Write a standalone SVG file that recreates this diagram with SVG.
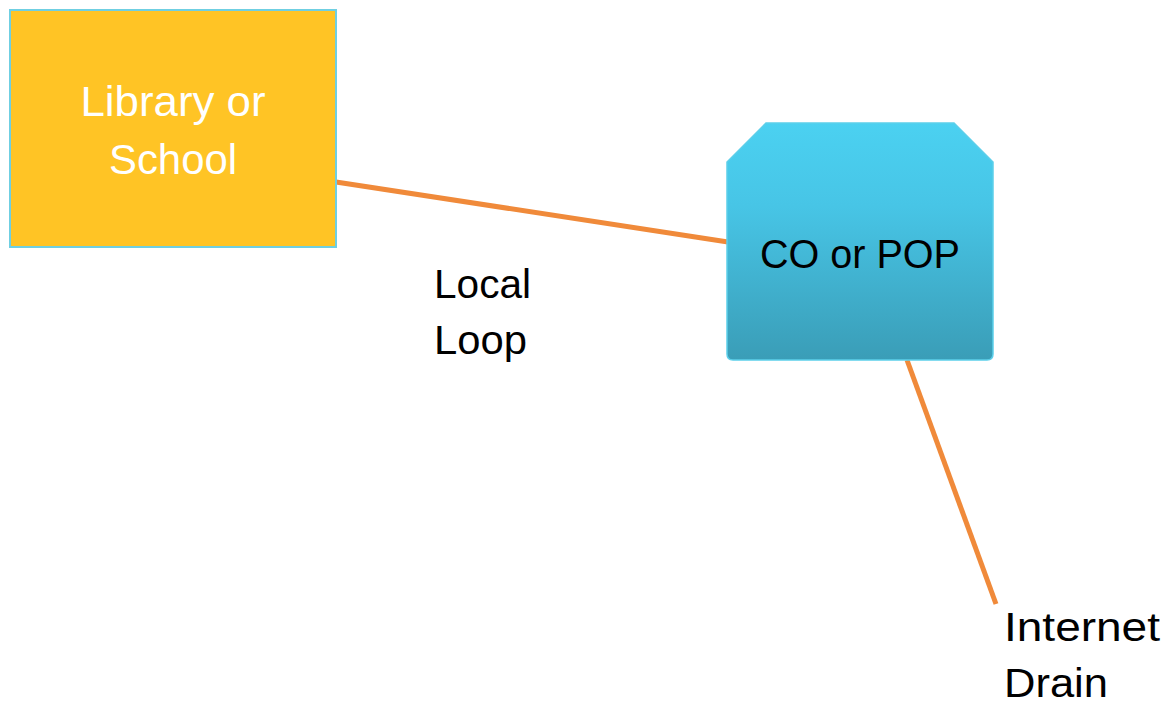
<svg xmlns="http://www.w3.org/2000/svg" width="1167" height="703" viewBox="0 0 1167 703">
<defs>
<linearGradient id="coGrad" x1="0" y1="0" x2="0" y2="1">
<stop offset="0" stop-color="#4BD1F1"/>
<stop offset="0.35" stop-color="#47C5E6"/>
<stop offset="1" stop-color="#3A9DB7"/>
</linearGradient>
</defs>
<style>
.conn{stroke:#F08A3A;stroke-width:5;fill:none}
.lbl{font-family:"Liberation Sans",Arial,sans-serif;font-size:40px;fill:#000}
.wlbl{font-family:"Liberation Sans",Arial,sans-serif;font-size:42px;fill:#fff;text-anchor:middle}
</style>
<rect width="1167" height="703" fill="#fff"/>
<g id="connectors">
<line class="conn" x1="336" y1="182" x2="728" y2="242"/>
<line class="conn" x1="907" y1="360" x2="996" y2="604"/>
</g>
<g id="library">
<rect x="10" y="10" width="326" height="237" fill="#FFC425" stroke="#6FCFE2" stroke-width="2"/>
<text class="wlbl" x="173" y="116" textLength="185" lengthAdjust="spacingAndGlyphs">Library or</text>
<text class="wlbl" x="173" y="174" textLength="128" lengthAdjust="spacingAndGlyphs">School</text>
</g>
<g id="co">
<path d="M766,123 L954,123 L993,162 L993,354 Q993,360 987,360 L733,360 Q727,360 727,354 L727,162 Z" fill="url(#coGrad)" stroke="#5CCFEA" stroke-width="1.5"/>
<text class="lbl" x="760" y="268" textLength="200" lengthAdjust="spacingAndGlyphs">CO or POP</text>
</g>
<g id="localloop">
<text class="lbl" x="434" y="298" textLength="97" lengthAdjust="spacingAndGlyphs">Local</text>
<text class="lbl" x="434" y="354" textLength="93" lengthAdjust="spacingAndGlyphs">Loop</text>
</g>
<g id="internet">
<text class="lbl" x="1004" y="641" textLength="156" lengthAdjust="spacingAndGlyphs">Internet</text>
<text class="lbl" x="1004" y="697" textLength="104" lengthAdjust="spacingAndGlyphs">Drain</text>
</g>
</svg>
